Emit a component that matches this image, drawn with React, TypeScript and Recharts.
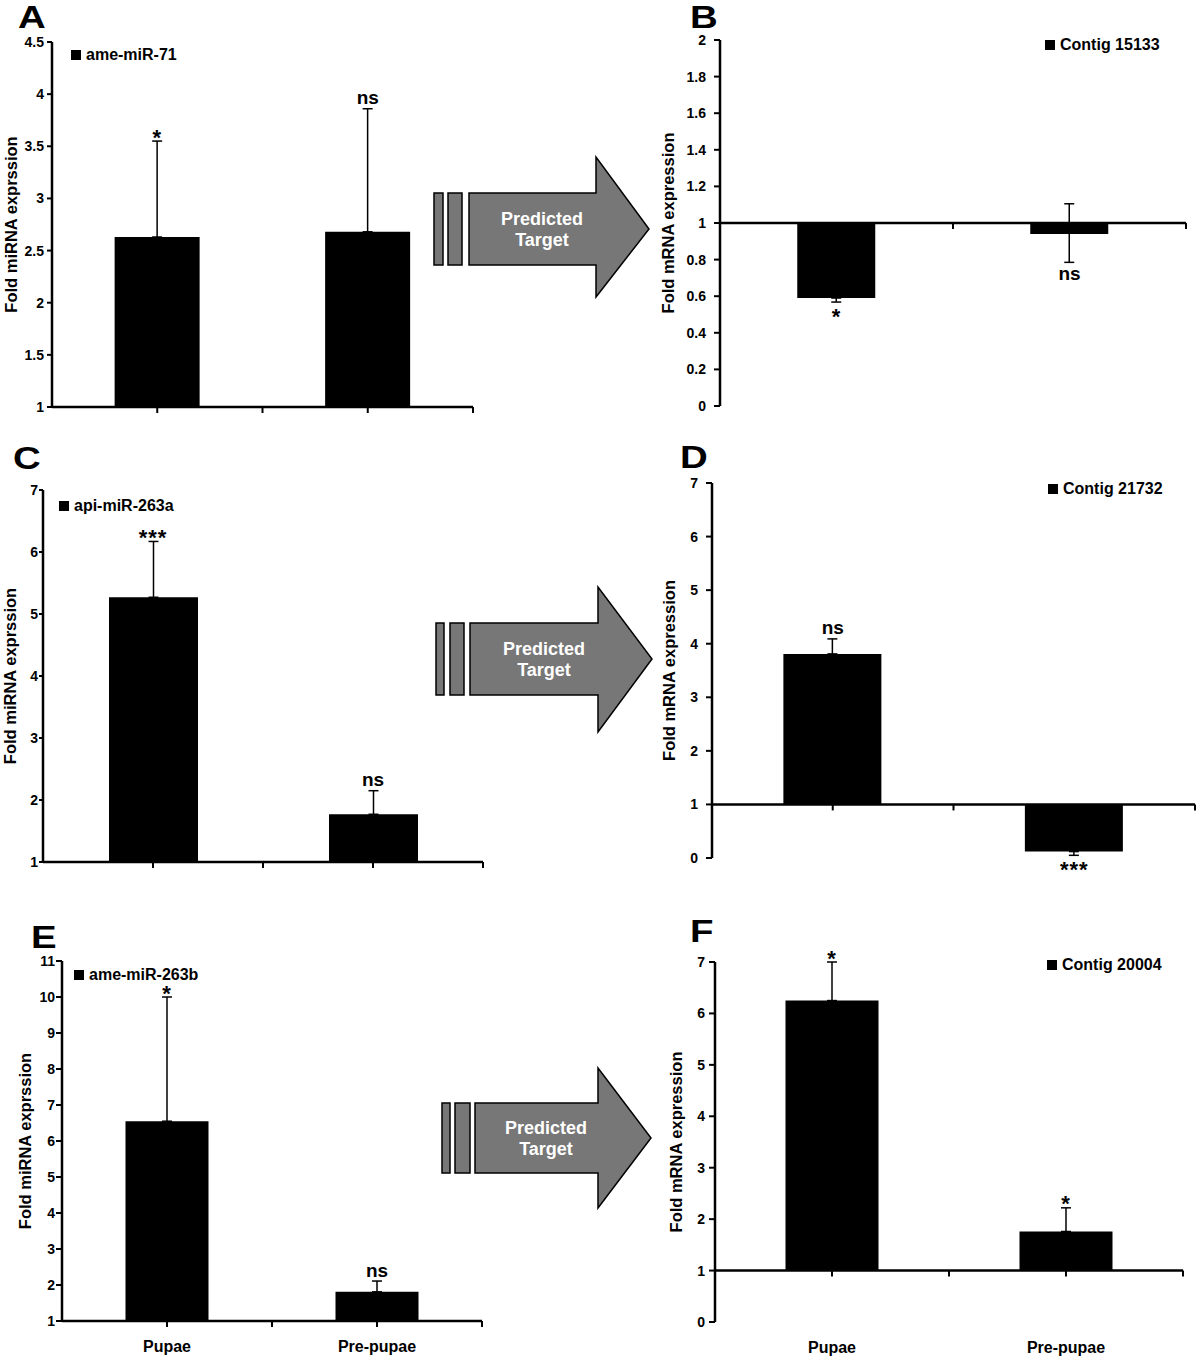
import React from "react";
import {
  ComposedChart,
  Bar,
  ErrorBar,
  XAxis,
  YAxis,
  ReferenceLine,
  Scatter,
  Legend,
} from "recharts";

const FONT = '"Liberation Sans", Arial, Helvetica, sans-serif';

// ---------- data ----------
const CATEGORIES = ["Pupae", "Pre-pupae"];
const BASELINE = 1; // fold change of 1 = no change

// A: ame-miR-71
const A_VALUES = [2.63, 2.68];
const A_ERR_UP = [0.92, 1.18];
const A_ERR_DOWN = [0, 0];
const A_SIG = ["*", "ns"];
const A_TICKS = [1, 1.5, 2, 2.5, 3, 3.5, 4, 4.5];

// B: Contig 15133
const B_VALUES = [0.59, 0.94];
const B_ERR_UP = [0, 0.165];
const B_ERR_DOWN = [0.022, 0.155];
const B_SIG = ["*", "ns"];
const B_TICKS = [0, 0.2, 0.4, 0.6, 0.8, 1, 1.2, 1.4, 1.6, 1.8, 2];

// C: api-miR-263a
const C_VALUES = [5.27, 1.77];
const C_ERR_UP = [0.9, 0.38];
const C_ERR_DOWN = [0, 0];
const C_SIG = ["***", "ns"];
const C_TICKS = [1, 2, 3, 4, 5, 6, 7];

// D: Contig 21732
const D_VALUES = [3.81, 0.12];
const D_ERR_UP = [0.28, 0];
const D_ERR_DOWN = [0, 0.07];
const D_SIG = ["ns", "***"];
const D_TICKS = [0, 1, 2, 3, 4, 5, 6, 7];

// E: ame-miR-263b
const E_VALUES = [6.55, 1.81];
const E_ERR_UP = [3.45, 0.3];
const E_ERR_DOWN = [0, 0];
const E_SIG = ["*", "ns"];
const E_TICKS = [1, 2, 3, 4, 5, 6, 7, 8, 9, 10, 11];

// F: Contig 20004
const F_VALUES = [6.25, 1.76];
const F_ERR_UP = [0.75, 0.46];
const F_ERR_DOWN = [0, 0];
const F_SIG = ["*", "*"];
const F_TICKS = [0, 1, 2, 3, 4, 5, 6, 7];

// ---------- helpers ----------
const fmt = (v: number) => String(Math.round((v + BASELINE) * 100) / 100);

const YTick = (props: any) => {
  const { x, y, payload } = props;
  return (
    <text
      x={x}
      y={y}
      dy="0.36em"
      textAnchor="end"
      fontSize={14}
      fontWeight="bold"
      fontFamily={FONT}
      fill="#000"
    >
      {fmt(payload.value)}
    </text>
  );
};

const TickMark = (props: any) => {
  const { cx, cy } = props;
  if (cx == null || cy == null) return null;
  return <line x1={cx} y1={cy} x2={cx} y2={cy + 6} stroke="#000" strokeWidth={2} />;
};

const SigLabel = (props: any) => {
  const { cx, cy, payload } = props;
  if (cx == null || cy == null || !payload) return null;
  const isStar = String(payload.label).includes("*");
  const fontSize = isStar ? 22 : 19;
  const dy = payload.below ? (isStar ? 22 : 18) : isStar ? 3.5 : -4.5;
  return (
    <text
      x={cx}
      y={cy + dy}
      textAnchor="middle"
      fontSize={fontSize}
      fontWeight="bold"
      fontFamily={FONT}
      fill="#000"
      letterSpacing={isStar ? 1 : 0}
    >
      {payload.label}
    </text>
  );
};

type Box = { left: number; top: number; width: number; height: number };
type Plot = { x0: number; x1: number; y0: number; y1: number };

type PanelProps = {
  letter: string;
  letterPos: { x: number; y: number };
  legend: string;
  legendPos: { x: number; cy: number };
  yLabel: string;
  yLabelX: number;
  values: number[];
  errUp: number[];
  errDown: number[];
  sig: string[];
  yTicks: number[];
  showCategories: boolean;
  box: Box;
  plot: Plot;
  barSize: number;
  tickSize: number;
  tickGap: number;
};

function Panel(p: PanelProps) {
  const data = p.values.map((v, i) => ({
    x: i + 0.5,
    name: CATEGORIES[i],
    delta: v - BASELINE,
    err: [p.errDown[i], p.errUp[i]],
  }));
  const xTickData = CATEGORIES.flatMap((_, i) => [
    { x: i + 0.5, y: 0 },
    { x: i + 1, y: 0 },
  ]);
  const sigData = p.values.map((v, i) => {
    const below = v < BASELINE;
    return {
      x: i + 0.5,
      y: below ? v - p.errDown[i] - BASELINE : v + p.errUp[i] - BASELINE,
      label: p.sig[i],
      below,
    };
  });
  const yDomain = [p.yTicks[0] - BASELINE, p.yTicks[p.yTicks.length - 1] - BASELINE];
  const { box, plot } = p;
  return (
    <>
      <div
        style={{
          position: "absolute",
          left: p.letterPos.x,
          top: p.letterPos.y + 0.3,
          fontFamily: FONT,
          fontWeight: "bold",
          fontSize: 32,
          lineHeight: "24px",
          height: 24,
          transform: "scaleX(1.2)",
          transformOrigin: "left top",
          color: "#000",
        }}
      >
        {p.letter}
      </div>
      <div style={{ position: "absolute", left: box.left, top: box.top }}>
        <ComposedChart
          width={box.width}
          height={box.height}
          data={data}
          margin={{
            top: plot.y0 - box.top,
            right: box.left + box.width - plot.x1,
            bottom: 0,
            left: 0,
          }}
        >
          <XAxis
            dataKey="x"
            type="number"
            domain={[0, CATEGORIES.length]}
            ticks={data.map((d) => d.x)}
            interval={0}
            tickFormatter={(v: number) => CATEGORIES[Math.floor(v)] ?? ""}
            axisLine={false}
            tickLine={false}
            tick={
              p.showCategories
                ? { fontSize: 16, fontWeight: "bold", fill: "#000", fontFamily: FONT }
                : false
            }
            tickSize={6}
            tickMargin={14}
            height={box.top + box.height - plot.y1}
          />
          <YAxis
            type="number"
            domain={yDomain}
            ticks={p.yTicks.map((t) => t - BASELINE)}
            interval={0}
            tickFormatter={fmt}
            width={plot.x0 - box.left}
            axisLine={{ stroke: "#000", strokeWidth: 2.5 }}
            tickLine={{ stroke: "#000", strokeWidth: 2 }}
            tickSize={p.tickSize}
            tickMargin={p.tickGap - p.tickSize}
            tick={YTick}
            label={{
              value: p.yLabel,
              angle: -90,
              position: "insideLeft",
              offset: p.yLabelX - box.left,
              style: {
                textAnchor: "middle",
                fontSize: 16.5,
                fontWeight: "bold",
                fill: "#000",
                fontFamily: FONT,
              },
            }}
          />
          <ReferenceLine y={0} stroke="#000" strokeWidth={2.5} />
          <Scatter
            data={xTickData}
            dataKey="y"
            shape={TickMark}
            isAnimationActive={false}
            legendType="none"
          />
          <Bar
            dataKey="delta"
            name={p.legend}
            fill="#000"
            barSize={p.barSize}
            isAnimationActive={false}
          >
            <ErrorBar dataKey="err" direction="y" width={5} stroke="#000" strokeWidth={1.5} />
          </Bar>
          <Scatter
            data={sigData}
            dataKey="y"
            shape={SigLabel}
            isAnimationActive={false}
            legendType="none"
          />
          <Legend
            layout="vertical"
            align="center"
            verticalAlign="middle"
            wrapperStyle={{
              left: p.legendPos.x - box.left,
              top: p.legendPos.cy - 7 - box.top,
              width: "auto",
            }}
            content={() => (
              <div
                style={{
                  display: "flex",
                  alignItems: "center",
                  fontFamily: FONT,
                  fontSize: 16,
                  fontWeight: "bold",
                  lineHeight: "14px",
                  height: 14,
                  whiteSpace: "nowrap",
                  color: "#000",
                }}
              >
                <span
                  style={{
                    display: "inline-block",
                    width: 10,
                    height: 10,
                    background: "#000",
                    marginRight: 5,
                  }}
                />
                {p.legend}
              </div>
            )}
          />
        </ComposedChart>
      </div>
    </>
  );
}

// ---------- decorative "Predicted Target" arrows ----------
const ARROWS = [
  { bars: [[434, 443], [448, 462]], body: [469, 596], y0: 193, y1: 265, headTop: 157, headBottom: 297, tip: 649, textX: 542 },
  { bars: [[436, 444], [450, 464]], body: [470, 598], y0: 623, y1: 695, headTop: 587, headBottom: 732, tip: 652, textX: 544 },
  { bars: [[442, 450], [455, 470]], body: [475, 598], y0: 1103, y1: 1173, headTop: 1068, headBottom: 1208, tip: 651, textX: 546 },
];
const ARROW_FILL = "#777777";

function Arrows() {
  return (
    <svg
      width={1200}
      height={1358}
      style={{ position: "absolute", left: 0, top: 0, pointerEvents: "none" }}
    >
      {ARROWS.map((a, k) => {
        const cy = (a.y0 + a.y1) / 2;
        const pts = [
          [a.body[0], a.y0],
          [a.body[1], a.y0],
          [a.body[1], a.headTop],
          [a.tip, cy],
          [a.body[1], a.headBottom],
          [a.body[1], a.y1],
          [a.body[0], a.y1],
        ]
          .map((q) => q.join(","))
          .join(" ");
        return (
          <g key={k}>
            {a.bars.map((b, j) => (
              <rect
                key={j}
                x={b[0]}
                y={a.y0}
                width={b[1] - b[0]}
                height={a.y1 - a.y0}
                fill={ARROW_FILL}
                stroke="#000"
                strokeWidth={1.5}
              />
            ))}
            <polygon points={pts} fill={ARROW_FILL} stroke="#000" strokeWidth={1.5} />
            <text
              x={a.textX}
              y={cy - 4}
              textAnchor="middle"
              fontFamily={FONT}
              fontWeight="bold"
              fontSize={18}
              fill="#fff"
            >
              Predicted
            </text>
            <text
              x={a.textX}
              y={cy + 17}
              textAnchor="middle"
              fontFamily={FONT}
              fontWeight="bold"
              fontSize={18}
              fill="#fff"
            >
              Target
            </text>
          </g>
        );
      })}
    </svg>
  );
}

export default function App() {
  return (
    <div
      style={{
        position: "absolute",
        left: 0,
        top: 0,
        width: 1200,
        height: 1358,
        background: "#fff",
        overflow: "hidden",
        fontFamily: FONT,
      }}
    >
      <Panel
        letter="A"
        letterPos={{ x: 18, y: 5 }}
        legend="ame-miR-71"
        legendPos={{ x: 71, cy: 55 }}
        yLabel="Fold miRNA exprssion"
        yLabelX={11}
        values={A_VALUES}
        errUp={A_ERR_UP}
        errDown={A_ERR_DOWN}
        sig={A_SIG}
        yTicks={A_TICKS}
        showCategories={false}
        box={{ left: 0, top: 30, width: 490, height: 400 }}
        plot={{ x0: 52, x1: 473, y0: 42, y1: 407 }}
        barSize={85}
        tickSize={5}
        tickGap={8}
      />
      <Panel
        letter="B"
        letterPos={{ x: 690, y: 5 }}
        legend="Contig 15133"
        legendPos={{ x: 1045, cy: 44.5 }}
        yLabel="Fold mRNA expression"
        yLabelX={668}
        values={B_VALUES}
        errUp={B_ERR_UP}
        errDown={B_ERR_DOWN}
        sig={B_SIG}
        yTicks={B_TICKS}
        showCategories={false}
        box={{ left: 640, top: 28, width: 560, height: 400 }}
        plot={{ x0: 720, x1: 1186, y0: 40, y1: 406 }}
        barSize={78}
        tickSize={6}
        tickGap={14}
      />
      <Panel
        letter="C"
        letterPos={{ x: 13, y: 446 }}
        legend="api-miR-263a"
        legendPos={{ x: 59, cy: 505.5 }}
        yLabel="Fold miRNA exprssion"
        yLabelX={10}
        values={C_VALUES}
        errUp={C_ERR_UP}
        errDown={C_ERR_DOWN}
        sig={C_SIG}
        yTicks={C_TICKS}
        showCategories={false}
        box={{ left: 0, top: 475, width: 500, height: 410 }}
        plot={{ x0: 43, x1: 483, y0: 490, y1: 862 }}
        barSize={89}
        tickSize={4}
        tickGap={5}
      />
      <Panel
        letter="D"
        letterPos={{ x: 680, y: 445 }}
        legend="Contig 21732"
        legendPos={{ x: 1048, cy: 489 }}
        yLabel="Fold mRNA expression"
        yLabelX={669}
        values={D_VALUES}
        errUp={D_ERR_UP}
        errDown={D_ERR_DOWN}
        sig={D_SIG}
        yTicks={D_TICKS}
        showCategories={false}
        box={{ left: 640, top: 470, width: 560, height: 430 }}
        plot={{ x0: 712, x1: 1195, y0: 483, y1: 858 }}
        barSize={98}
        tickSize={6}
        tickGap={14}
      />
      <Panel
        letter="E"
        letterPos={{ x: 31, y: 925 }}
        legend="ame-miR-263b"
        legendPos={{ x: 74, cy: 974.5 }}
        yLabel="Fold miRNA exprssion"
        yLabelX={25}
        values={E_VALUES}
        errUp={E_ERR_UP}
        errDown={E_ERR_DOWN}
        sig={E_SIG}
        yTicks={E_TICKS}
        showCategories={true}
        box={{ left: 0, top: 945, width: 500, height: 413 }}
        plot={{ x0: 62, x1: 482, y0: 961, y1: 1321 }}
        barSize={83}
        tickSize={6}
        tickGap={7}
      />
      <Panel
        letter="F"
        letterPos={{ x: 690, y: 919 }}
        legend="Contig 20004"
        legendPos={{ x: 1047, cy: 964.5 }}
        yLabel="Fold mRNA expression"
        yLabelX={676}
        values={F_VALUES}
        errUp={F_ERR_UP}
        errDown={F_ERR_DOWN}
        sig={F_SIG}
        yTicks={F_TICKS}
        showCategories={true}
        box={{ left: 640, top: 935, width: 560, height: 423 }}
        plot={{ x0: 715, x1: 1183, y0: 962, y1: 1322 }}
        barSize={93}
        tickSize={6}
        tickGap={10}
      />
      <Arrows />
    </div>
  );
}
